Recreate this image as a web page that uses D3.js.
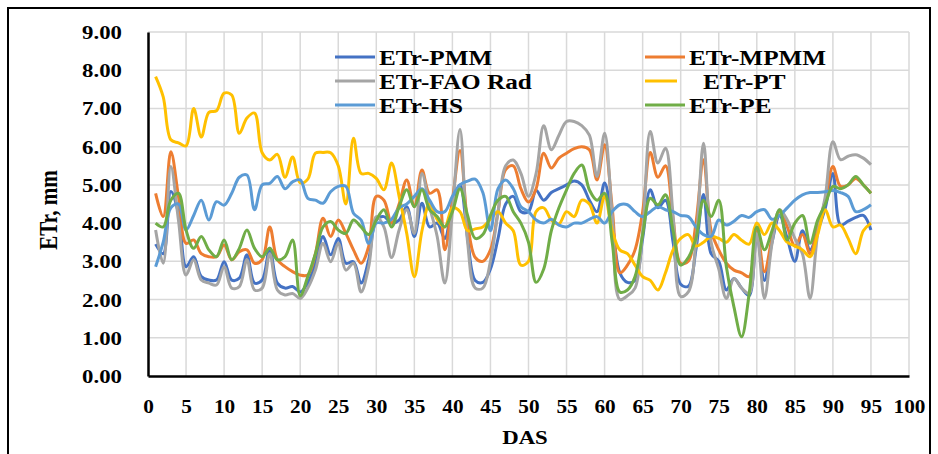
<!DOCTYPE html>
<html><head><meta charset="utf-8">
<script src="https://cdn.jsdelivr.net/npm/d3@7"></script>
<style>html,body{margin:0;padding:0;background:#fff;}</style>
</head><body>
<svg id="chart" width="938" height="454"></svg>
<script>
const days = d3.range(1, 96);
const seriesNames = ["ETr-PMM","ETr-MPMM","ETr-FAO Rad","ETr-PT","ETr-HS","ETr-PE"];
const seriesColors = ["#4472C4","#ED7D31","#A5A5A5","#FFC000","#5B9BD5","#70AD47"];
const pmm = [3.45,3.2,4.83,4.26,2.86,3.12,2.6,2.51,2.51,2.99,2.51,2.56,3.17,2.43,2.51,3.34,2.43,2.3,2.34,2.2,2.43,2.95,3.65,3.17,3.6,2.95,2.99,2.43,3.04,4.08,4.17,4.0,4.08,4.43,3.65,4.52,3.9,4.0,3.6,4.5,5.0,3.6,2.5,2.45,2.8,3.6,4.5,4.7,4.3,4.3,4.85,4.6,4.8,4.9,5.0,5.1,5.0,4.6,4.3,5.05,4.0,2.7,2.45,2.5,3.6,4.87,4.4,4.6,3.5,2.4,2.35,3.3,4.75,3.2,3.0,2.25,2.55,2.3,2.1,3.7,2.5,3.5,4.2,3.6,3.0,3.8,3.3,3.8,4.4,5.3,3.95,4.05,4.15,4.2,3.82];
const mpmm = [4.78,4.17,5.87,4.7,3.47,3.56,3.2,3.12,3.12,3.43,3.04,3.25,3.3,2.95,3.04,3.9,3.04,2.86,2.73,2.64,2.64,3.2,4.13,3.65,4.08,3.73,3.3,2.95,3.39,4.7,4.6,4.0,4.5,5.13,4.43,5.39,4.78,4.87,3.3,4.6,5.9,4.0,3.1,3.0,3.3,4.3,5.4,5.5,4.9,4.55,4.9,5.83,5.44,5.7,5.83,5.95,6.0,5.92,5.13,6.05,4.4,2.7,2.9,3.3,4.3,5.85,5.2,5.5,4.1,2.95,3.0,4.0,5.66,3.8,3.3,2.95,2.77,2.7,2.6,3.8,2.73,3.6,4.3,3.9,3.4,3.7,3.2,3.9,4.6,5.48,4.96,5.0,5.17,5.0,4.78];
const fao = [3.82,2.95,5.48,4.08,2.64,3.04,2.51,2.43,2.38,2.86,2.3,2.34,3.04,2.25,2.3,3.2,2.25,2.12,2.16,2.03,2.3,2.77,3.47,2.99,3.47,2.77,2.95,2.2,2.86,4.17,3.9,3.1,3.82,4.35,3.73,5.3,4.43,3.65,2.43,4.3,6.45,3.5,2.3,2.3,3.0,4.3,5.5,5.65,5.3,4.7,5.3,6.55,5.92,6.3,6.66,6.66,6.55,6.3,5.22,6.35,4.2,2.0,2.1,2.3,3.8,6.4,5.57,5.96,4.2,2.08,2.2,3.5,6.09,3.5,2.8,2.03,2.55,2.3,2.16,3.73,2.03,3.47,4.35,4.08,3.6,3.2,2.03,3.73,4.7,6.13,5.66,5.75,5.79,5.7,5.53];
const pt = [7.83,7.3,6.18,6.1,6.02,7.0,6.25,6.9,6.94,7.4,7.35,6.35,6.75,6.88,5.84,5.65,5.8,5.2,5.73,5.05,5.15,5.83,5.85,5.84,5.5,4.5,6.22,5.3,5.3,5.17,4.87,5.57,4.7,3.73,2.6,3.8,4.5,4.1,3.9,4.4,4.3,3.8,3.85,3.9,4.1,4.3,4.0,3.8,2.9,3.0,4.3,4.4,4.08,3.98,4.3,4.17,4.6,4.5,4.0,4.7,3.8,3.3,3.2,2.9,2.6,2.5,2.25,2.7,3.3,3.6,3.7,3.4,3.5,3.65,3.6,3.5,3.7,3.55,3.45,4.0,3.7,4.0,3.8,3.5,3.4,3.3,3.12,3.7,4.35,3.9,3.95,3.6,3.2,3.8,4.0];
const hs = [2.86,3.5,4.4,4.5,3.82,4.2,4.6,4.08,4.56,4.47,4.78,5.2,5.26,4.35,5.0,5.04,5.22,4.9,5.08,5.13,4.65,4.6,4.52,4.82,4.96,4.96,4.26,4.08,3.47,4.0,4.0,4.1,4.4,4.5,4.7,4.9,4.6,4.3,4.3,4.7,5.0,5.1,5.15,4.8,3.8,4.9,5.13,4.9,4.43,4.3,4.08,4.0,4.1,3.95,3.9,4.0,4.0,4.1,4.17,4.0,4.3,4.48,4.48,4.3,4.17,4.3,4.43,4.35,4.3,4.2,4.17,3.9,3.7,3.65,4.08,3.95,4.05,4.2,4.15,4.3,4.35,4.1,4.2,4.4,4.6,4.74,4.8,4.8,4.82,4.85,4.8,4.7,4.3,4.35,4.48];
const pe = [4.0,3.9,4.6,4.78,3.82,3.34,3.65,3.3,3.12,3.56,3.04,3.34,3.82,3.34,3.12,3.34,3.04,3.12,3.56,2.1,2.6,3.2,3.9,4.04,3.82,3.73,4.08,3.9,3.7,4.08,4.35,3.9,4.43,4.87,4.43,4.87,4.35,4.17,3.9,4.3,4.9,4.2,3.6,3.7,4.2,4.6,4.7,4.3,4.0,3.5,2.45,2.8,3.8,4.4,4.87,5.3,5.52,4.87,4.6,4.78,3.5,2.2,2.25,2.6,3.7,4.65,4.48,4.74,3.8,2.9,3.1,3.6,4.6,4.17,4.6,2.86,1.8,1.03,2.16,3.9,3.3,3.8,4.35,3.56,4.0,4.2,3.47,4.08,4.5,4.96,4.9,5.0,5.22,5.0,4.78];
const seriesValues = [pmm, mpmm, fao, pt, hs, pe];
const xTicks = d3.range(0, 101, 5);
const yTicks = d3.range(0, 10, 1);

const svg = d3.select("#chart");
const L = 148, R = 909, T = 32, B = 376;
const x = d3.scaleLinear().domain([0, 100]).range([L, R]);
const y = d3.scaleLinear().domain([0, 9]).range([B, T]);
const FONT = "'Liberation Serif','Times New Roman',serif";
const SX = 1.2;

// outer frame (bottom edge runs off the picture)
svg.append("rect").attr("x", 8).attr("y", 8).attr("width", 922).attr("height", 452)
  .attr("fill", "none").attr("stroke", "#000").attr("stroke-width", 2);

// gridlines
svg.append("g").selectAll("line").data(xTicks.slice(1)).join("line")
  .attr("x1", d => x(d)).attr("x2", d => x(d)).attr("y1", T).attr("y2", B)
  .attr("stroke", "#d9d9d9").attr("stroke-width", 1.5);
svg.append("g").selectAll("line").data(yTicks.slice(1)).join("line")
  .attr("x1", L).attr("x2", R).attr("y1", d => y(d)).attr("y2", d => y(d))
  .attr("stroke", "#d9d9d9").attr("stroke-width", 1.5);

// axes
const xAxis = svg.append("g").attr("transform", `translate(0,${B})`)
  .call(d3.axisBottom(x).tickValues(xTicks).tickSize(0).tickPadding(0).tickFormat(d3.format("d")));
xAxis.select(".domain").attr("stroke", "#000").attr("stroke-width", 2.5);
xAxis.selectAll("text").remove();
xAxis.selectAll(".tick").append("text")
  .attr("transform", `translate(0,37) scale(1.12,1)`)
  .attr("text-anchor", "middle").attr("fill", "#000")
  .style("font-family", FONT).style("font-weight", "bold").style("font-size", "19px")
  .text(d => d);

const yAxis = svg.append("g").attr("transform", `translate(${L},0)`)
  .call(d3.axisLeft(y).tickValues(yTicks).tickSize(0).tickPadding(0).tickFormat(d3.format(".2f")));
yAxis.select(".domain").attr("stroke", "#000").attr("stroke-width", 2.5);
yAxis.selectAll("text").remove();
yAxis.selectAll(".tick").append("text")
  .attr("transform", `translate(-26,6.5) scale(${SX},1)`)
  .attr("text-anchor", "end").attr("fill", "#000")
  .style("font-family", FONT).style("font-weight", "bold").style("font-size", "19px")
  .text(d => d.toFixed(2));

// titles
svg.append("text").attr("transform", `translate(525,444) scale(${SX},1)`)
  .attr("text-anchor", "middle").style("font-family", FONT).style("font-weight", "bold")
  .style("font-size", "19px").text("DAS");
svg.append("text").attr("transform", `translate(57,210) rotate(-90) scale(1,${SX})`)
  .attr("text-anchor", "middle").style("font-family", FONT).style("font-weight", "bold")
  .style("font-size", "21px").text("ETr, mm");

// lines
const line = d3.line().x((d, i) => x(days[i])).y(d => y(d)).curve(d3.curveCatmullRom.alpha(0.5));
svg.append("g").selectAll("path").data(seriesValues).join("path")
  .attr("d", d => line(d)).attr("fill", "none")
  .attr("stroke", (d, i) => seriesColors[i]).attr("stroke-width", 3)
  .attr("stroke-linejoin", "round");

// legend
const legendPos = [
  {lx: 335, tx: 379, y: 57}, {lx: 645, tx: 689, y: 57},
  {lx: 335, tx: 379, y: 81}, {lx: 645, tx: 703, y: 81},
  {lx: 335, tx: 379, y: 105}, {lx: 645, tx: 689, y: 105}
];
const lg = svg.append("g");
seriesNames.forEach((name, si) => {
  const p = legendPos[si];
  lg.append("line").attr("x1", p.lx).attr("x2", si === 3 ? p.lx + 32 : p.lx + 40)
    .attr("y1", p.y).attr("y2", p.y).attr("stroke", seriesColors[si]).attr("stroke-width", 3);
  lg.append("text").attr("transform", `translate(${p.tx},${p.y + 7.5}) scale(1.2,1)`)
    .style("font-family", FONT).style("font-weight", "bold").style("font-size", "21px")
    .text(name);
});
</script>
</body></html>
